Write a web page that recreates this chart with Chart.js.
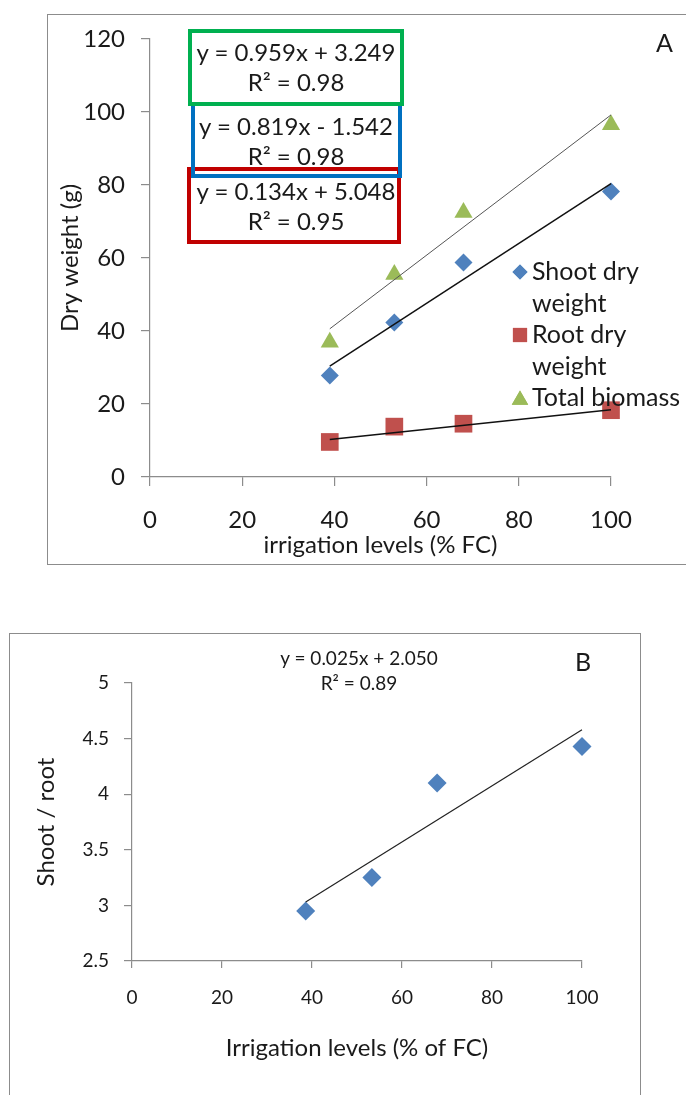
<!DOCTYPE html>
<html lang="en">
<head>
<meta charset="UTF-8">
<title>Dry weight and shoot/root ratio</title>
<script src="https://cdn.jsdelivr.net/npm/chart.js"></script>
<style>
  body { margin: 0; width: 686px; height: 1095px; background: #fff; position: relative; overflow: hidden; font-family: Lato, sans-serif; color: #1a1a1a; }
  .frame { position: absolute; border: 1.5px solid #8c8c8c; }
  #frameA { left: 47px; top: 14px; width: 700px; height: 549px; }
  #frameB { left: 9px; top: 633px; width: 630px; height: 500px; }
  .wrap { position: absolute; left: 0; width: 686px; }
  #wrapA { top: 0; height: 570px; }
  #wrapB { top: 620px; height: 475px; }
  .eqbox { position: absolute; border: 4px solid; box-sizing: border-box; }
  .eq { position: absolute; left: 176px; width: 240px; text-align: center; font-size: 24px; line-height: 30px; white-space: nowrap; }
  .panel { position: absolute; font-size: 25px; }
  .eqB { position: absolute; left: 239px; width: 240px; text-align: center; font-size: 19px; line-height: 25px; }
</style>
</head>
<body>

<div class="frame" id="frameA"></div>
<div class="frame" id="frameB"></div>

<div class="wrap" id="wrapA"><canvas id="chartA" width="686" height="570"></canvas></div>
<div class="wrap" id="wrapB"><canvas id="chartB" width="686" height="475"></canvas></div>

<!-- trendline equation boxes, chart A -->
<div class="eqbox" style="left:187px; top:167px; width:214px; height:77px; border-color:#C00000;"></div>
<div class="eqbox" style="left:191px; top:102px; width:211px; height:76px; border-color:#0070C0;"></div>
<div class="eqbox" style="left:188px; top:29px; width:216px; height:77px; border-color:#00B050;"></div>
<div class="eq" style="top:37px;">y = 0.959x + 3.249<br>R² = 0.98</div>
<div class="eq" style="top:111px;">y = 0.819x - 1.542<br>R² = 0.98</div>
<div class="eq" style="top:176px;">y = 0.134x + 5.048<br>R² = 0.95</div>
<div class="panel" style="left:656px; top:27px;">A</div>

<div class="eqB" style="top:645px;">y = 0.025x + 2.050<br>R² = 0.89</div>
<div class="panel" style="left:575px; top:646px;">B</div>

<script>
    // chart A data
    const levelsA = [39, 53, 68, 100];
    const shootDry = [27.8, 42.3, 58.8, 78.2];
    const rootDry = [9.6, 13.8, 14.6, 18.3];
    const totalBiomass = [36.9, 55.5, 72.5, 96.5];
    const trendX = [39, 100];
    const shootTrend = [30.4, 80.4];
    const rootTrend = [10.3, 18.4];
    const totalTrend = [40.6, 99.2];
    const legendNames = [['Shoot dry', 'weight'], ['Root dry', 'weight'], ['Total biomass']];
    const ticksA_x = [0, 20, 40, 60, 80, 100];
    const ticksA_y = [0, 20, 40, 60, 80, 100, 120];

    // chart B data
    const levelsB = [38.6, 53.3, 67.8, 100];
    const shootRoot = [2.95, 3.25, 4.1, 4.43];
    const trendXB = [38.6, 100];
    const ratioTrend = [3.03, 4.58];
    const ticksB_y = [2.5, 3, 3.5, 4, 4.5, 5];

    const axisGrey = '#8c8c8c';
    const txt = '#1a1a1a';
    const blue = '#4F81BD', red = '#C0504D', green = '#9BBB59';

    function pts(xs, ys) {
        return xs.map((x, i) => ({ x: x, y: ys[i] }));
    }

    function trend(xs, ys, color, width) {
        return {
            type: 'line', data: pts(xs, ys), borderColor: color, borderWidth: width,
            pointRadius: 0, showLine: true, fill: false, order: 0, clip: false
        };
    }

    function marks(label, xs, ys, style, radius, color) {
        return {
            label: label, data: pts(xs, ys), pointStyle: style, pointRadius: radius,
            pointHoverRadius: radius, backgroundColor: color, borderColor: color, borderWidth: 0,
            showLine: false, order: 1, clip: false
        };
    }

    // custom two-line legend for chart A
    const legendA = {
        id: 'legendA',
        afterDraw(chart) {
            const ctx = chart.ctx;
            const sets = chart.data.datasets.slice(0, 3);
            let y = 272;
            ctx.save();
            ctx.font = '25px Lato';
            ctx.textBaseline = 'middle';
            sets.forEach((ds, i) => {
                ctx.fillStyle = ds.backgroundColor;
                Chart.helpers.drawPoint(ctx, {
                    pointStyle: ds.pointStyle,
                    radius: [7.5, 10, 9.5][i],
                    rotation: 0, borderWidth: 0
                }, 520, y + (i == 2 ? 2 : 0));
                ctx.fill();
                ctx.fillStyle = txt;
                legendNames[i].forEach(line => {
                    ctx.fillText(line, 532, y);
                    y += 31.5;
                });
            });
            ctx.restore();
        }
    };

    function axisX(min, max, ticks, tickLen, pad, fontSize, height, title, titlePad) {
        return {
            type: 'linear', min: min, max: max,
            afterBuildTicks: s => { s.ticks = ticks.map(v => ({ value: v })); },
            afterFit: s => { s.height = height; },
            grid: { drawOnChartArea: false, color: axisGrey, tickLength: tickLen, lineWidth: 1.2 },
            border: { color: axisGrey, width: 1.2 },
            ticks: { color: txt, padding: pad, font: { family: 'Lato', size: fontSize }, maxRotation: 0, callback: v => String(v) },
            title: { display: true, text: title, color: txt, font: { family: 'Lato', size: 24 }, padding: { top: 0, bottom: titlePad } }
        };
    }

    function axisY(min, max, ticks, tickLen, pad, fontSize, width, title, titlePad) {
        return {
            type: 'linear', min: min, max: max,
            afterBuildTicks: s => { s.ticks = ticks.map(v => ({ value: v })); },
            afterFit: s => { s.width = width; },
            grid: { drawOnChartArea: false, color: axisGrey, tickLength: tickLen, lineWidth: 1.2 },
            border: { color: axisGrey, width: 1.2 },
            ticks: { color: txt, padding: pad, font: { family: 'Lato', size: fontSize }, callback: v => String(v) },
            title: { display: true, text: title, color: txt, font: { family: 'Lato', size: 24 }, padding: { top: titlePad, bottom: 0 } }
        };
    }

    const chartA = new Chart(document.getElementById('chartA'), {
        type: 'scatter',
        data: {
            datasets: [
                marks('Shoot dry weight', levelsA, shootDry, 'rectRot', 9, blue),
                marks('Root dry weight', levelsA, rootDry, 'rect', 12.5, red),
                marks('Total biomass', levelsA, totalBiomass, 'triangle', 10.5, green),
                trend(trendX, totalTrend, '#555555', 1),
                trend(trendX, shootTrend, '#111111', 1.5),
                trend(trendX, rootTrend, '#111111', 1.5)
            ]
        },
        options: {
            responsive: false,
            animation: false,
            layout: { padding: { left: 0, top: 39, right: 75, bottom: 0 } },
            plugins: { legend: { display: false }, tooltip: { enabled: false } },
            scales: {
                x: axisX(0, 100, ticksA_x, 9, 20, 24, 93, 'irrigation levels (% FC)', 10.5),
                y: axisY(0, 120, ticksA_y, 9, 16, 24, 150, 'Dry weight (g)', 55.5)
            }
        },
        plugins: [legendA]
    });

    const chartB = new Chart(document.getElementById('chartB'), {
        type: 'scatter',
        data: {
            datasets: [
                marks('Shoot / root', levelsB, shootRoot, 'rectRot', 9.5, blue),
                trend(trendXB, ratioTrend, '#222222', 1.2)
            ]
        },
        options: {
            responsive: false,
            animation: false,
            layout: { padding: { left: 0, top: 63, right: 104, bottom: 0 } },
            plugins: { legend: { display: false }, tooltip: { enabled: false } },
            scales: {
                x: axisX(0, 100, ticksA_x, 7, 18.5, 19, 134, 'Irrigation levels (% of FC)', 32.5),
                y: axisY(2.5, 5, ticksB_y, 8, 15, 19, 132, 'Shoot / root', 31.5)
            }
        }
    });
</script>
</body>
</html>
